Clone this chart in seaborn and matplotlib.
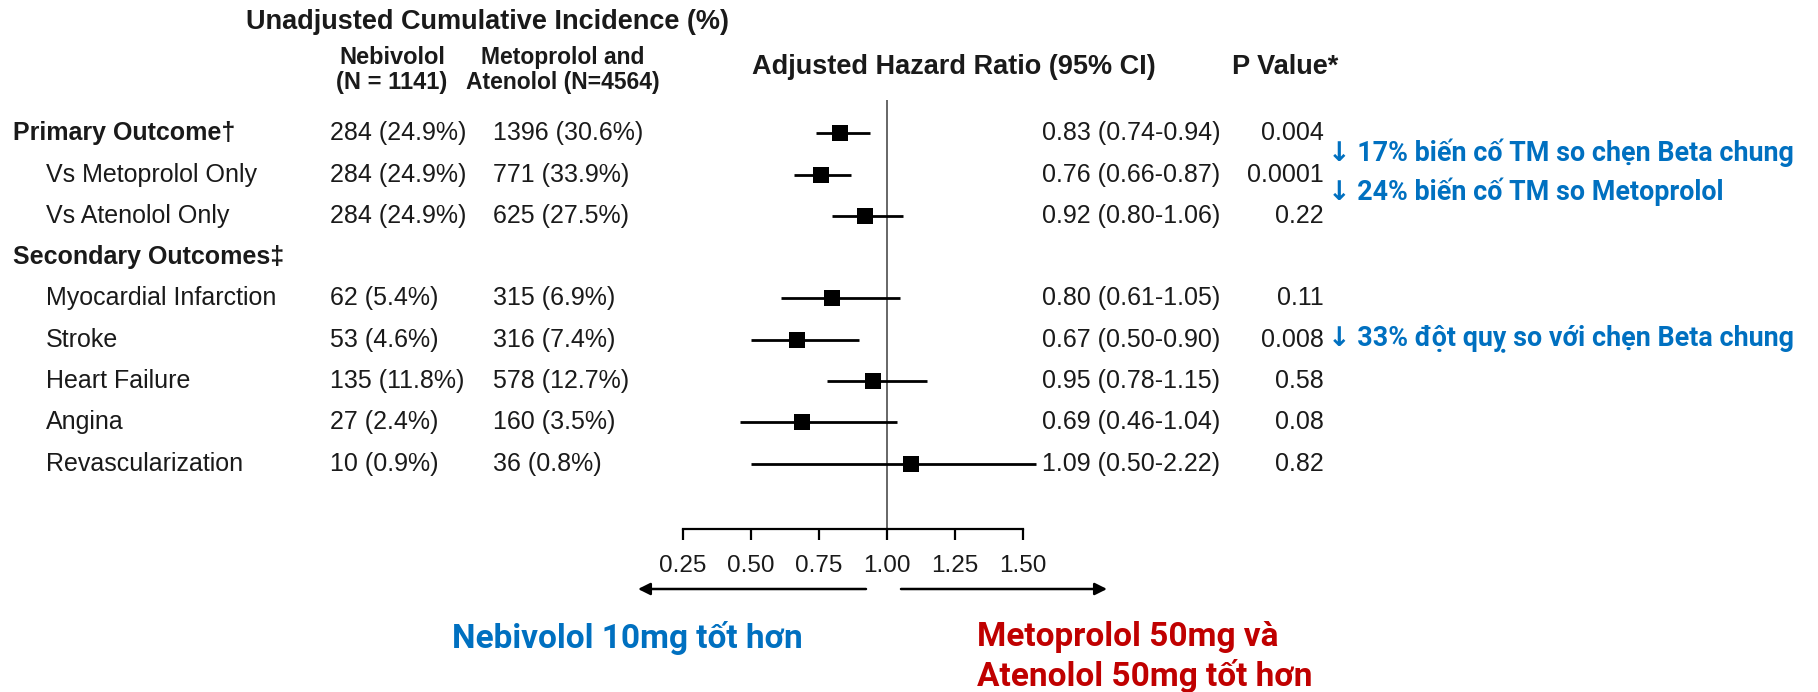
import numpy as np
import pandas as pd
import matplotlib
matplotlib.use("Agg")
import matplotlib.pyplot as plt
from matplotlib.transforms import Affine2D, blended_transform_factory
import seaborn as sns

# ---------------- data ----------------
row_labels = ["Primary Outcome\u2020", "Vs Metoprolol Only", "Vs Atenolol Only",
              "Secondary Outcomes\u2021", "Myocardial Infarction", "Stroke",
              "Heart Failure", "Angina", "Revascularization"]
row_is_header = [True, False, False, True, False, False, False, False, False]
nebivolol_inc = ["284 (24.9%)", "284 (24.9%)", "284 (24.9%)", "", "62 (5.4%)",
                 "53 (4.6%)", "135 (11.8%)", "27 (2.4%)", "10 (0.9%)"]
metoprolol_inc = ["1396 (30.6%)", "771 (33.9%)", "625 (27.5%)", "", "315 (6.9%)",
                  "316 (7.4%)", "578 (12.7%)", "160 (3.5%)", "36 (0.8%)"]
hr = [0.83, 0.76, 0.92, np.nan, 0.80, 0.67, 0.95, 0.69, 1.09]
ci_lo = [0.74, 0.66, 0.80, np.nan, 0.61, 0.50, 0.78, 0.46, 0.50]
ci_hi = [0.94, 0.87, 1.06, np.nan, 1.05, 0.90, 1.15, 1.04, 2.22]
p_values = ["0.004", "0.0001", "0.22", "", "0.11", "0.008", "0.58", "0.08", "0.82"]
x_ticks = [0.25, 0.50, 0.75, 1.00, 1.25, 1.50]
x_tick_labels = ["0.25", "0.50", "0.75", "1.00", "1.25", "1.50"]
notes = ["\u2193 17% biến cố TM so chẹn Beta chung",
         "\u2193 24% biến cố TM so Metoprolol",
         "\u2193 33% đột quỵ so với chẹn Beta chung"]
favors_left = "Nebivolol 10mg tốt hơn"
favors_right = "Metoprolol 50mg và\nAtenolol 50mg tốt hơn"

df = pd.DataFrame({"row": np.arange(len(row_labels)), "hr": hr,
                   "lo": ci_lo, "hi": ci_hi})
df_pts = df.dropna()

# ---------------- layout ----------------
W, H = 1818, 692
X0, K = 886.6, 272.0        # pixel of HR=1 and pixels per HR unit
Y0, DY = 133.3, 41.3        # pixel of first row and row spacing
CLIP_HI = 1.55              # where the longest CI runs into the text column

sns.set_style("white")
plt.rcParams["font.family"] = ["Liberation Sans", "DejaVu Sans"]

fig = plt.figure(figsize=(W / 100, H / 100), dpi=100)
ax = fig.add_axes([0, 0, 1, 1])
pxT = Affine2D().scale(1 / W, -1 / H).translate(0, 1) + fig.transFigure
rowT = blended_transform_factory(pxT, ax.transData)


def row_of(py):
    return (py - Y0) / DY


# CI lines and points
ax.hlines(df_pts["row"], df_pts["lo"], np.minimum(df_pts["hi"], CLIP_HI),
          color="black", lw=2.0, zorder=2)
sns.scatterplot(data=df_pts, x="hr", y="row", marker="s", s=140, color="black",
                edgecolor="black", linewidth=0, ax=ax, legend=False, zorder=3)

# reference line at 1
ax.vlines(1.0, row_of(100), row_of(529), color="#666666", lw=1.4, zorder=1)

ax.set_xlim(1 - X0 / K, 1 + (W - X0) / K)
ax.set_ylim(row_of(H), row_of(0))
ax.set_xlabel("")
ax.set_ylabel("")

# x axis drawn as bottom spine
for s in ["top", "left", "right"]:
    ax.spines[s].set_visible(False)
ax.spines["bottom"].set_position(("data", row_of(529)))
ax.spines["bottom"].set_bounds(x_ticks[0], x_ticks[-1])
ax.spines["bottom"].set_linewidth(1.6)
ax.spines["bottom"].set_color("black")
ax.set_xticks(x_ticks)
ax.set_xticklabels(x_tick_labels)
ax.tick_params(axis="x", direction="out", length=8, width=1.6, color="black",
               labelsize=17.5, pad=11, labelcolor="#1a1a1a", bottom=True)
ax.set_yticks([])
ax.grid(False)

# headers
txt = "#1a1a1a"
ax.text(488, 22, "Unadjusted Cumulative Incidence (%)", transform=pxT, ha="center",
        va="center", fontsize=19.5, fontweight="bold", color=txt)
ax.text(392, 70, "Nebivolol\n(N = 1141)", transform=pxT, ha="center", va="center",
        fontsize=17, fontweight="bold", color=txt, linespacing=1.15)
ax.text(563, 70, "Metoprolol and\nAtenolol (N=4564)", transform=pxT, ha="center",
        va="center", fontsize=16.5, fontweight="bold", color=txt, linespacing=1.15)
ax.text(954, 67, "Adjusted Hazard Ratio (95% CI)", transform=pxT, ha="center",
        va="center", fontsize=19.5, fontweight="bold", color=txt)
ax.text(1285, 67, "P Value*", transform=pxT, ha="center", va="center",
        fontsize=19.5, fontweight="bold", color=txt)

# table rows
for i, lab in enumerate(row_labels):
    if row_is_header[i]:
        ax.text(13, i, lab, transform=rowT, ha="left", va="center", fontsize=18,
                fontweight="bold", color=txt)
    else:
        ax.text(46, i, lab, transform=rowT, ha="left", va="center", fontsize=18,
                color=txt)
    if nebivolol_inc[i]:
        ax.text(330, i, nebivolol_inc[i], transform=rowT, ha="left", va="center",
                fontsize=18, color=txt)
        ax.text(493, i, metoprolol_inc[i], transform=rowT, ha="left", va="center",
                fontsize=18, color=txt)
    if not np.isnan(hr[i]):
        ax.text(1042, i, f"{hr[i]:.2f} ({ci_lo[i]:.2f}-{ci_hi[i]:.2f})", transform=rowT,
                ha="left", va="center", fontsize=18, color=txt)
        ax.text(1324, i, p_values[i], transform=rowT, ha="right", va="center",
                fontsize=18, color=txt)

# blue annotations
blue = "#0070C0"
red = "#C00000"
vfont = ["Roboto", "DejaVu Sans"]
for ypx, note in zip([153, 192, 338], notes):
    ax.text(1328, ypx, note, transform=pxT, ha="left", va="center", fontsize=19.4,
            fontweight="bold", color=blue, family=vfont)

# direction arrows
ax.annotate("", xy=(638, 589), xytext=(866, 589), xycoords=pxT, textcoords=pxT,
            arrowprops=dict(arrowstyle="-|>", lw=1.8, color="black", mutation_scale=18,
                            shrinkA=0, shrinkB=0))
ax.annotate("", xy=(1107, 589), xytext=(901, 589), xycoords=pxT, textcoords=pxT,
            arrowprops=dict(arrowstyle="-|>", lw=1.8, color="black", mutation_scale=18,
                            shrinkA=0, shrinkB=0))

ax.text(452, 638, favors_left, transform=pxT, ha="left", va="center", fontsize=24,
        fontweight="bold", color=blue, family=vfont)
ax.text(977, 657, favors_right, transform=pxT, ha="left", va="center", fontsize=24,
        fontweight="bold", color=red, family=vfont, linespacing=1.2)

fig.savefig("out.png", dpi=100, facecolor="white")
